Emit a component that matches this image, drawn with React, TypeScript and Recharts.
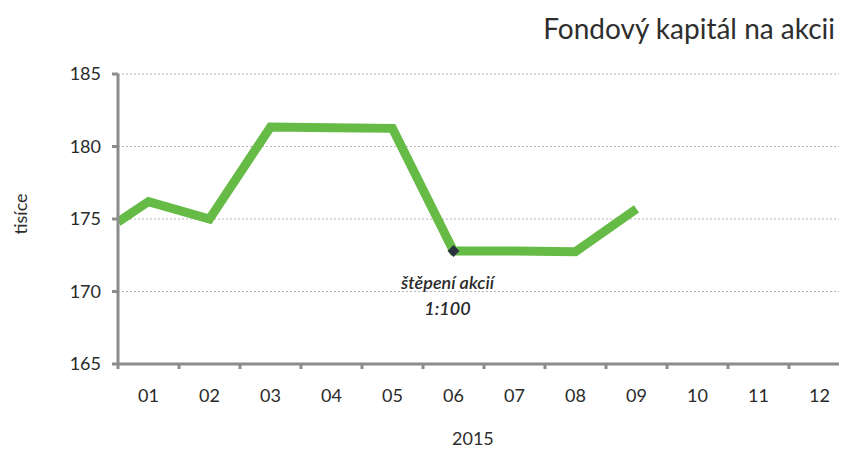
import React from "react";
import { LineChart, Line, XAxis, YAxis, CartesianGrid } from "recharts";

// month labels on the category axis
const monthLabels = ["01", "02", "03", "04", "05", "06", "07", "08", "09", "10", "11", "12"];
// x positions of the points (0.5 = left edge, carried over from previous year)
const monthPos = [0.5, 1, 2, 3, 4, 5, 6, 7, 8, 9];
// fund capital per share, thousands
const capital = [174.8, 176.2, 175.0, 181.35, 181.3, 181.25, 172.8, 172.8, 172.75, 175.7];
const yTicks = [165, 170, 175, 180, 185];
const boundaryTicks = [0.5, 1.5, 2.5, 3.5, 4.5, 5.5, 6.5, 7.5, 8.5, 9.5, 10.5, 11.5, 12.5];
const splitIndex = 6;
const splitNote = ["štěpení akcií", "1:100"];

const data = monthPos.map((m, i) => ({ m, v: capital[i] }));

const FONT = "Lato, 'Open Sans', sans-serif";
const AXIS = "#8c8c8c";

function SplitDot(props: any) {
  const { cx, cy, index } = props;
  if (index !== splitIndex) return <g key={`d${index}`} />;
  const s = 6;
  return (
    <g key={`d${index}`}>
      <path
        d={`M${cx},${cy - s} L${cx + s},${cy} L${cx},${cy + s} L${cx - s},${cy} Z`}
        fill="#2a323d"
      />
      <text
        x={cx - 6}
        y={cy + 38}
        textAnchor="middle"
        fontFamily={FONT}
        fontStyle="italic"
        fontWeight={600}
        fontSize={18}
        fill="#2a2a2a"
      >
        {splitNote[0]}
      </text>
      <text
        x={cx - 6}
        y={cy + 64}
        textAnchor="middle"
        fontFamily={FONT}
        fontStyle="italic"
        fontWeight={600}
        fontSize={18}
        fill="#2a2a2a"
      >
        {splitNote[1]}
      </text>
    </g>
  );
}

export default function App() {
  return (
    <div style={{ position: "relative", width: 847, height: 456, margin: -8, overflow: "hidden", background: "#fff" }}>
      <LineChart width={850} height={456} data={data} margin={{ top: 74, right: 0, bottom: 0, left: 0 }}>
        <CartesianGrid vertical={false} stroke="#b5b5b5" strokeDasharray="2 2" />
        <XAxis
          xAxisId="edges"
          dataKey="m"
          type="number"
          domain={[0.5, 12.5]}
          ticks={boundaryTicks}
          height={1}
          interval={0}
          axisLine={{ stroke: AXIS, strokeWidth: 3 }}
          tickLine={{ stroke: AXIS, strokeWidth: 3 }}
          tickSize={5}
          tick={() => <g />}
        />
        <XAxis
          xAxisId="months"
          dataKey="m"
          type="number"
          domain={[0.5, 12.5]}
          ticks={[1, 2, 3, 4, 5, 6, 7, 8, 9, 10, 11, 12]}
          interval={0}
          height={91}
          axisLine={false}
          tickLine={false}
          tickMargin={18}
          tickFormatter={(v: number) => monthLabels[v - 1]}
          tick={{ fontFamily: FONT, fontSize: 18, fill: "#2a2a2a" }}
        />
        <YAxis
          domain={[165, 185]}
          ticks={yTicks}
          width={118}
          interval={0}
          axisLine={{ stroke: AXIS, strokeWidth: 3 }}
          tickLine={{ stroke: AXIS, strokeWidth: 3 }}
          tickSize={6}
          tickMargin={11}
          tick={{ fontFamily: FONT, fontSize: 18, fill: "#2a2a2a" }}
        />
        <Line
          xAxisId="months"
          dataKey="v"
          stroke="#66bb46"
          strokeWidth={9}
          strokeLinejoin="miter"
          dot={<SplitDot />}
          activeDot={false}
          isAnimationActive={false}
        />
      </LineChart>
      <div
        style={{
          position: "absolute",
          right: 12,
          top: 10,
          zIndex: 2,
          fontFamily: FONT,
          fontSize: 28,
          lineHeight: "36px",
          color: "#2e2e2e",
          whiteSpace: "nowrap",
        }}
      >
        Fondový kapitál na akcii
      </div>
      <div
        style={{
          position: "absolute",
          left: 20,
          top: 214,
          zIndex: 2,
          transform: "translate(-50%, -50%) rotate(-90deg)",
          fontFamily: FONT,
          fontSize: 18,
          lineHeight: "22px",
          color: "#2e2e2e",
        }}
      >
        tisíce
      </div>
      <div
        style={{
          position: "absolute",
          left: 452,
          top: 427,
          zIndex: 2,
          fontFamily: FONT,
          fontSize: 18,
          lineHeight: "22px",
          color: "#2e2e2e",
        }}
      >
        2015
      </div>
    </div>
  );
}
